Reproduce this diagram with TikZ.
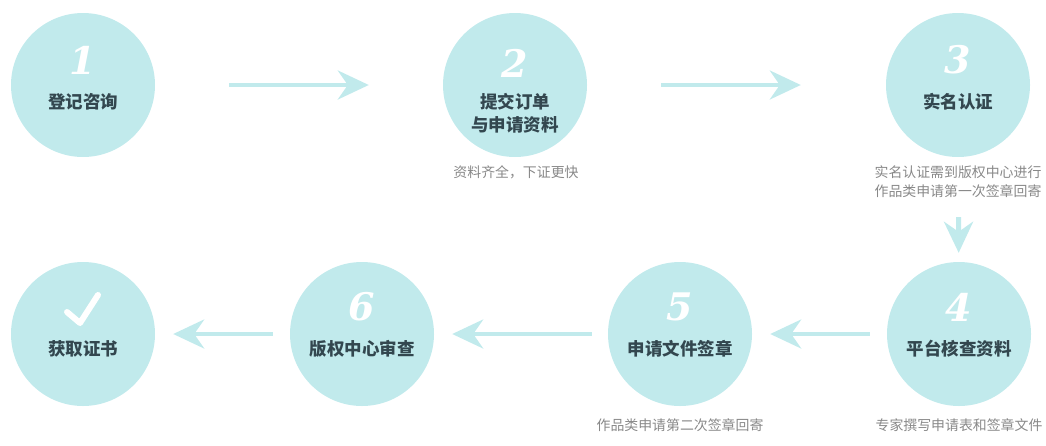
\documentclass[tikz,border=0pt]{standalone}
\usepackage{fontspec}
\newfontfamily\cjk{Noto Sans CJK SC}
\newfontfamily\numfont{DejaVu Serif}
\usetikzlibrary{arrows.meta}
\definecolor{ringfill}{HTML}{C1EAEC}
\definecolor{labeltext}{HTML}{33474F}
\definecolor{notetext}{HTML}{888888}

\begin{document}
\begin{tikzpicture}[x=1pt, y=-1pt,
    stepdisc/.style={circle, fill=ringfill, minimum size=144pt, inner sep=0pt},
    num/.style={text=white, font=\numfont\bfseries\itshape\fontsize{38}{38}\selectfont},
    lbl/.style={text=labeltext, font=\cjk\bfseries\fontsize{17.5}{23}\selectfont, align=center},
    note/.style={text=notetext, font=\cjk\fontsize{13.9}{19}\selectfont, align=center},
    flow/.style={draw=ringfill, line width=4pt, -{Stealth[length=31pt, width=29pt, inset=10pt]}}]
    \useasboundingbox (0,0) rectangle (1046,445);

    \node[stepdisc] (s1) at (83,85) {};
    \node[stepdisc] (s2) at (515,85) {};
    \node[stepdisc] (s3) at (958,85) {};
    \node[stepdisc] (s4) at (959,334) {};
    \node[stepdisc] (s5) at (680,334) {};
    \node[stepdisc] (s6) at (362,334) {};
    \node[stepdisc] (s7) at (83,334) {};

    \node[num] (n1) at ([yshift=25pt]s1.center) {1};
    \node[num] (n2) at ([yshift=22pt]s2.center) {2};
    \node[num] (n3) at ([yshift=25pt]s3.center) {3};
    \node[num] (n4) at ([yshift=27pt]s4.center) {4};
    \node[num] (n5) at ([yshift=27pt]s5.center) {5};
    \node[num] (n6) at ([yshift=27pt]s6.center) {6};
    \draw[white, line width=6pt, line cap=round, line join=round] (67,312) -- (80,323) -- (98,295);

    \node[lbl] (l1) at ([yshift=-17pt]s1.center) {登记咨询};
    \node[lbl] (l2) at ([yshift=-28pt]s2.center) {提交订单\\与申请资料};
    \node[lbl] (l3) at ([yshift=-17pt]s3.center) {实名认证};
    \node[lbl] (l4) at ([yshift=-15pt]s4.center) {平台核查资料};
    \node[lbl] (l5) at ([yshift=-15pt]s5.center) {申请文件签章};
    \node[lbl] (l6) at ([yshift=-15pt]s6.center) {版权中心审查};
    \node[lbl] (l7) at ([yshift=-15pt]s7.center) {获取证书};

    \node[note] (c2) at (516,172) {资料齐全，下证更快};
    \node[note] (c3) at (958,182) {实名认证需到版权中心进行\\作品类申请第一次签章回寄};
    \node[note] (c4) at (959,425) {专家撰写申请表和签章文件};
    \node[note] (c5) at (680,425) {作品类申请第二次签章回寄};

    \draw[flow, shorten <=74pt, shorten >=74pt] (s1) -- (s2);
    \draw[flow, shorten <=74pt, shorten >=85pt] (s2) -- (s3);
    \draw[flow, line width=5pt, shorten <=60pt, shorten >=9pt] (s3) -- (s4);
    \begin{scope}[yshift=-3pt]
        \draw[flow, shorten <=17pt, shorten >=18pt] (s4) -- (s5);
        \draw[flow, shorten <=16pt, shorten >=18pt] (s5) -- (s6);
        \draw[flow, shorten <=17pt, shorten >=18pt] (s6) -- (s7);
    \end{scope}
\end{tikzpicture}
\end{document}
